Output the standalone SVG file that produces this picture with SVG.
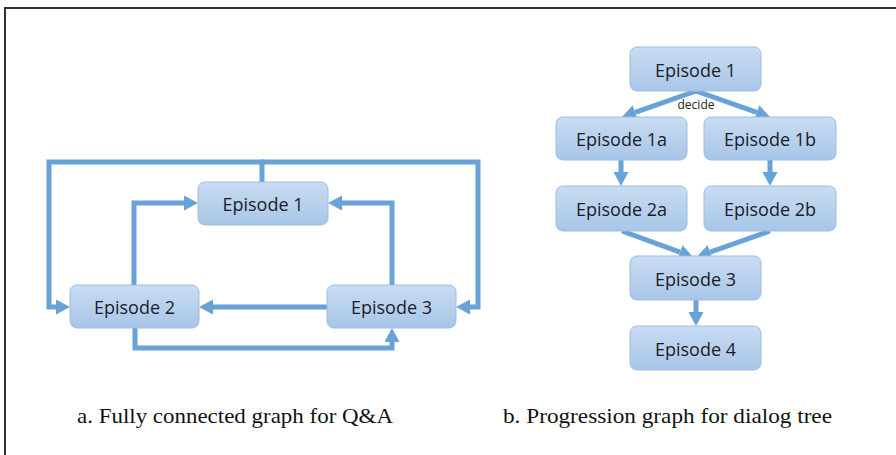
<svg xmlns="http://www.w3.org/2000/svg" width="896" height="455" viewBox="0 0 896 455">
<defs>
<linearGradient id="nodeFill" x1="0" y1="0" x2="0" y2="1">
<stop offset="0" stop-color="#c9dcf2"/>
<stop offset="1" stop-color="#a8c6e8"/>
</linearGradient>
<marker id="arrow" markerUnits="userSpaceOnUse" markerWidth="15" markerHeight="16" refX="0" refY="7.5" orient="auto">
<path d="M0,0 L14,7.5 L0,15 z" fill="#68a2d6"/>
</marker>
</defs>
<style>
.node rect { fill: url(#nodeFill); stroke: #9dbde2; stroke-width: 1; }
.node text { font-family: "Open Sans", "Liberation Sans", sans-serif; font-size: 18px; fill: #1c1c28; text-anchor: middle; }
.conn path { fill: none; stroke: #68a2d6; stroke-width: 5; }
.cap { font-family: "Liberation Serif", "Times New Roman", serif; font-size: 22px; fill: #111; }
.small { font-family: "Open Sans", "Liberation Sans", sans-serif; font-size: 12px; fill: #222; text-anchor: middle; }
</style>
<rect width="896" height="455" fill="#ffffff"/>
<path d="M5,455 V8 H896" fill="none" stroke="#333" stroke-width="2"/>

<g id="connectors" class="conn">
<path d="M262,182 V162 H49 V307 H56" marker-end="url(#arrow)"/>
<path d="M262,162 H478 V307 H470" marker-end="url(#arrow)"/>
<path d="M134,285 V203 H184" marker-end="url(#arrow)"/>
<path d="M392,285 V203 H342" marker-end="url(#arrow)"/>
<path d="M327,307 H213" marker-end="url(#arrow)"/>
<path d="M135,328 V348 H392 V342" marker-end="url(#arrow)"/>
<path d="M696,91 L635.2,112.4" marker-end="url(#arrow)"/>
<path d="M696,91 L756.8,112.3" marker-end="url(#arrow)"/>
<path d="M621,160 V172" marker-end="url(#arrow)"/>
<path d="M770,160 V172" marker-end="url(#arrow)"/>
<path d="M622,231 L679.9,252.2" marker-end="url(#arrow)"/>
<path d="M770,231 L710.1,252.1" marker-end="url(#arrow)"/>
<path d="M696,300 V312" marker-end="url(#arrow)"/>
</g>
<text class="small" x="696" y="109">decide</text>

<g id="a-episode1" class="node"><rect x="198" y="182" width="130" height="43" rx="7"/><text x="263" y="211">Episode 1</text></g>
<g id="a-episode2" class="node"><rect x="70" y="285" width="129" height="43" rx="7"/><text x="134.5" y="314">Episode 2</text></g>
<g id="a-episode3" class="node"><rect x="327" y="285" width="129" height="43" rx="7"/><text x="391.5" y="314">Episode 3</text></g>

<g id="b-episode1" class="node"><rect x="630" y="47" width="131" height="44" rx="7"/><text x="695.5" y="77">Episode 1</text></g>
<g id="b-episode1a" class="node"><rect x="556" y="117" width="131" height="43" rx="7"/><text x="621.5" y="146">Episode 1a</text></g>
<g id="b-episode1b" class="node"><rect x="704" y="117" width="132" height="43" rx="7"/><text x="770" y="146">Episode 1b</text></g>
<g id="b-episode2a" class="node"><rect x="556" y="186" width="131" height="45" rx="7"/><text x="621.5" y="216">Episode 2a</text></g>
<g id="b-episode2b" class="node"><rect x="704" y="186" width="132" height="45" rx="7"/><text x="770" y="216">Episode 2b</text></g>
<g id="b-episode3" class="node"><rect x="630" y="256" width="131" height="44" rx="7"/><text x="695.5" y="286">Episode 3</text></g>
<g id="b-episode4" class="node"><rect x="630" y="326" width="131" height="44" rx="7"/><text x="695.5" y="356">Episode 4</text></g>

<text class="cap" x="77" y="423" textLength="316" lengthAdjust="spacingAndGlyphs">a. Fully connected graph for Q&amp;A</text>
<text class="cap" x="503" y="423" textLength="329" lengthAdjust="spacingAndGlyphs">b. Progression graph for dialog tree</text>
</svg>
